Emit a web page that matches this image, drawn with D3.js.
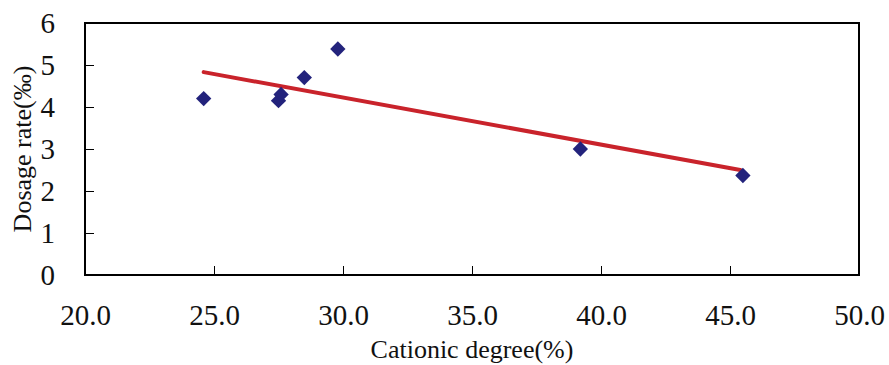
<!DOCTYPE html>
<html lang="en">
<head>
    <meta charset="UTF-8">
    <title>Dosage rate vs Cationic degree</title>
    <script src="https://d3js.org/d3.v7.min.js"></script>
    <style>
        body { margin: 0; background: #fff; }
        svg text { font-family: "Liberation Serif", Tinos, "Times New Roman", Times, "DejaVu Serif", serif; }
        .tick-label { font-size: 29px; fill: #111; }
        .axis-title { font-size: 26px; fill: #111; }
        .trend { fill: none; stroke: #c9232b; stroke-width: 4; stroke-linecap: round; }
        .pt { fill: #23237c; }
    </style>
</head>
<body>
    <div id="chart"></div>
    <script>
        const width = 889, height = 365;
        const margin = { top: 23, right: 30, bottom: 90, left: 85 };

        // data
        const cationicDegree = [24.6, 27.5, 27.6, 28.5, 29.8, 39.2, 45.5];
        const dosageRate = [4.2, 4.15, 4.3, 4.7, 5.38, 3.0, 2.37];
        const trendX = [24.6, 45.4];
        const trendY = [4.83, 2.5];
        const xTicks = [20, 25, 30, 35, 40, 45, 50];
        const yTicks = [0, 1, 2, 3, 4, 5, 6];

        const svg = d3.select("#chart")
            .append("svg")
            .attr("width", width)
            .attr("height", height);

        const x = d3.scaleLinear().domain([20, 50]).range([margin.left, 859]);
        const y = d3.scaleLinear().domain([0, 6]).range([275, margin.top]);

        // frame
        svg.append("rect")
            .attr("x", x(20))
            .attr("y", y(6))
            .attr("width", x(50) - x(20))
            .attr("height", y(0) - y(6))
            .attr("fill", "none")
            .attr("stroke", "#000")
            .attr("stroke-width", 2);

        // x axis, inward ticks
        const xAxis = svg.append("g")
            .attr("transform", `translate(0,${y(0)})`)
            .call(d3.axisBottom(x).tickValues(xTicks).tickSizeInner(-9).tickSizeOuter(0).tickFormat(d3.format(".1f")));
        xAxis.attr("font-family", null).attr("font-size", null);
        xAxis.select(".domain").remove();
        xAxis.selectAll("line").attr("stroke", "#000").attr("stroke-width", 1);
        xAxis.selectAll("text")
            .attr("class", "tick-label")
            .attr("y", 50)
            .attr("dy", null)
            .attr("fill", null);

        // y axis, inward ticks
        const yAxis = svg.append("g")
            .attr("transform", `translate(${x(20)},0)`)
            .call(d3.axisLeft(y).tickValues(yTicks).tickSizeInner(-9).tickSizeOuter(0).tickFormat(d3.format("d")));
        yAxis.attr("font-family", null).attr("font-size", null);
        yAxis.select(".domain").remove();
        yAxis.selectAll("line").attr("stroke", "#000").attr("stroke-width", 1);
        yAxis.selectAll("text")
            .attr("class", "tick-label")
            .attr("x", -30)
            .attr("dy", "0.34em")
            .attr("fill", null);

        // trend line
        svg.append("path")
            .datum(trendX.map((d, i) => [d, trendY[i]]))
            .attr("class", "trend")
            .attr("d", d3.line().x(d => x(d[0])).y(d => y(d[1])));

        // points
        svg.selectAll(".pt")
            .data(cationicDegree.map((d, i) => [d, dosageRate[i]]))
            .join("path")
            .attr("class", "pt")
            .attr("transform", d => `translate(${x(d[0])},${y(d[1])})`)
            .attr("d", d3.symbol(d3.symbolDiamond2, 150));

        // axis titles
        svg.append("text")
            .attr("class", "axis-title")
            .attr("x", (x(20) + x(50)) / 2)
            .attr("y", 358)
            .attr("text-anchor", "middle")
            .text("Cationic degree(%)");

        svg.append("text")
            .attr("class", "axis-title")
            .attr("transform", `translate(31,${(y(0) + y(6)) / 2}) rotate(-90)`)
            .attr("text-anchor", "middle")
            .text("Dosage rate(‰)");
    </script>
</body>
</html>
